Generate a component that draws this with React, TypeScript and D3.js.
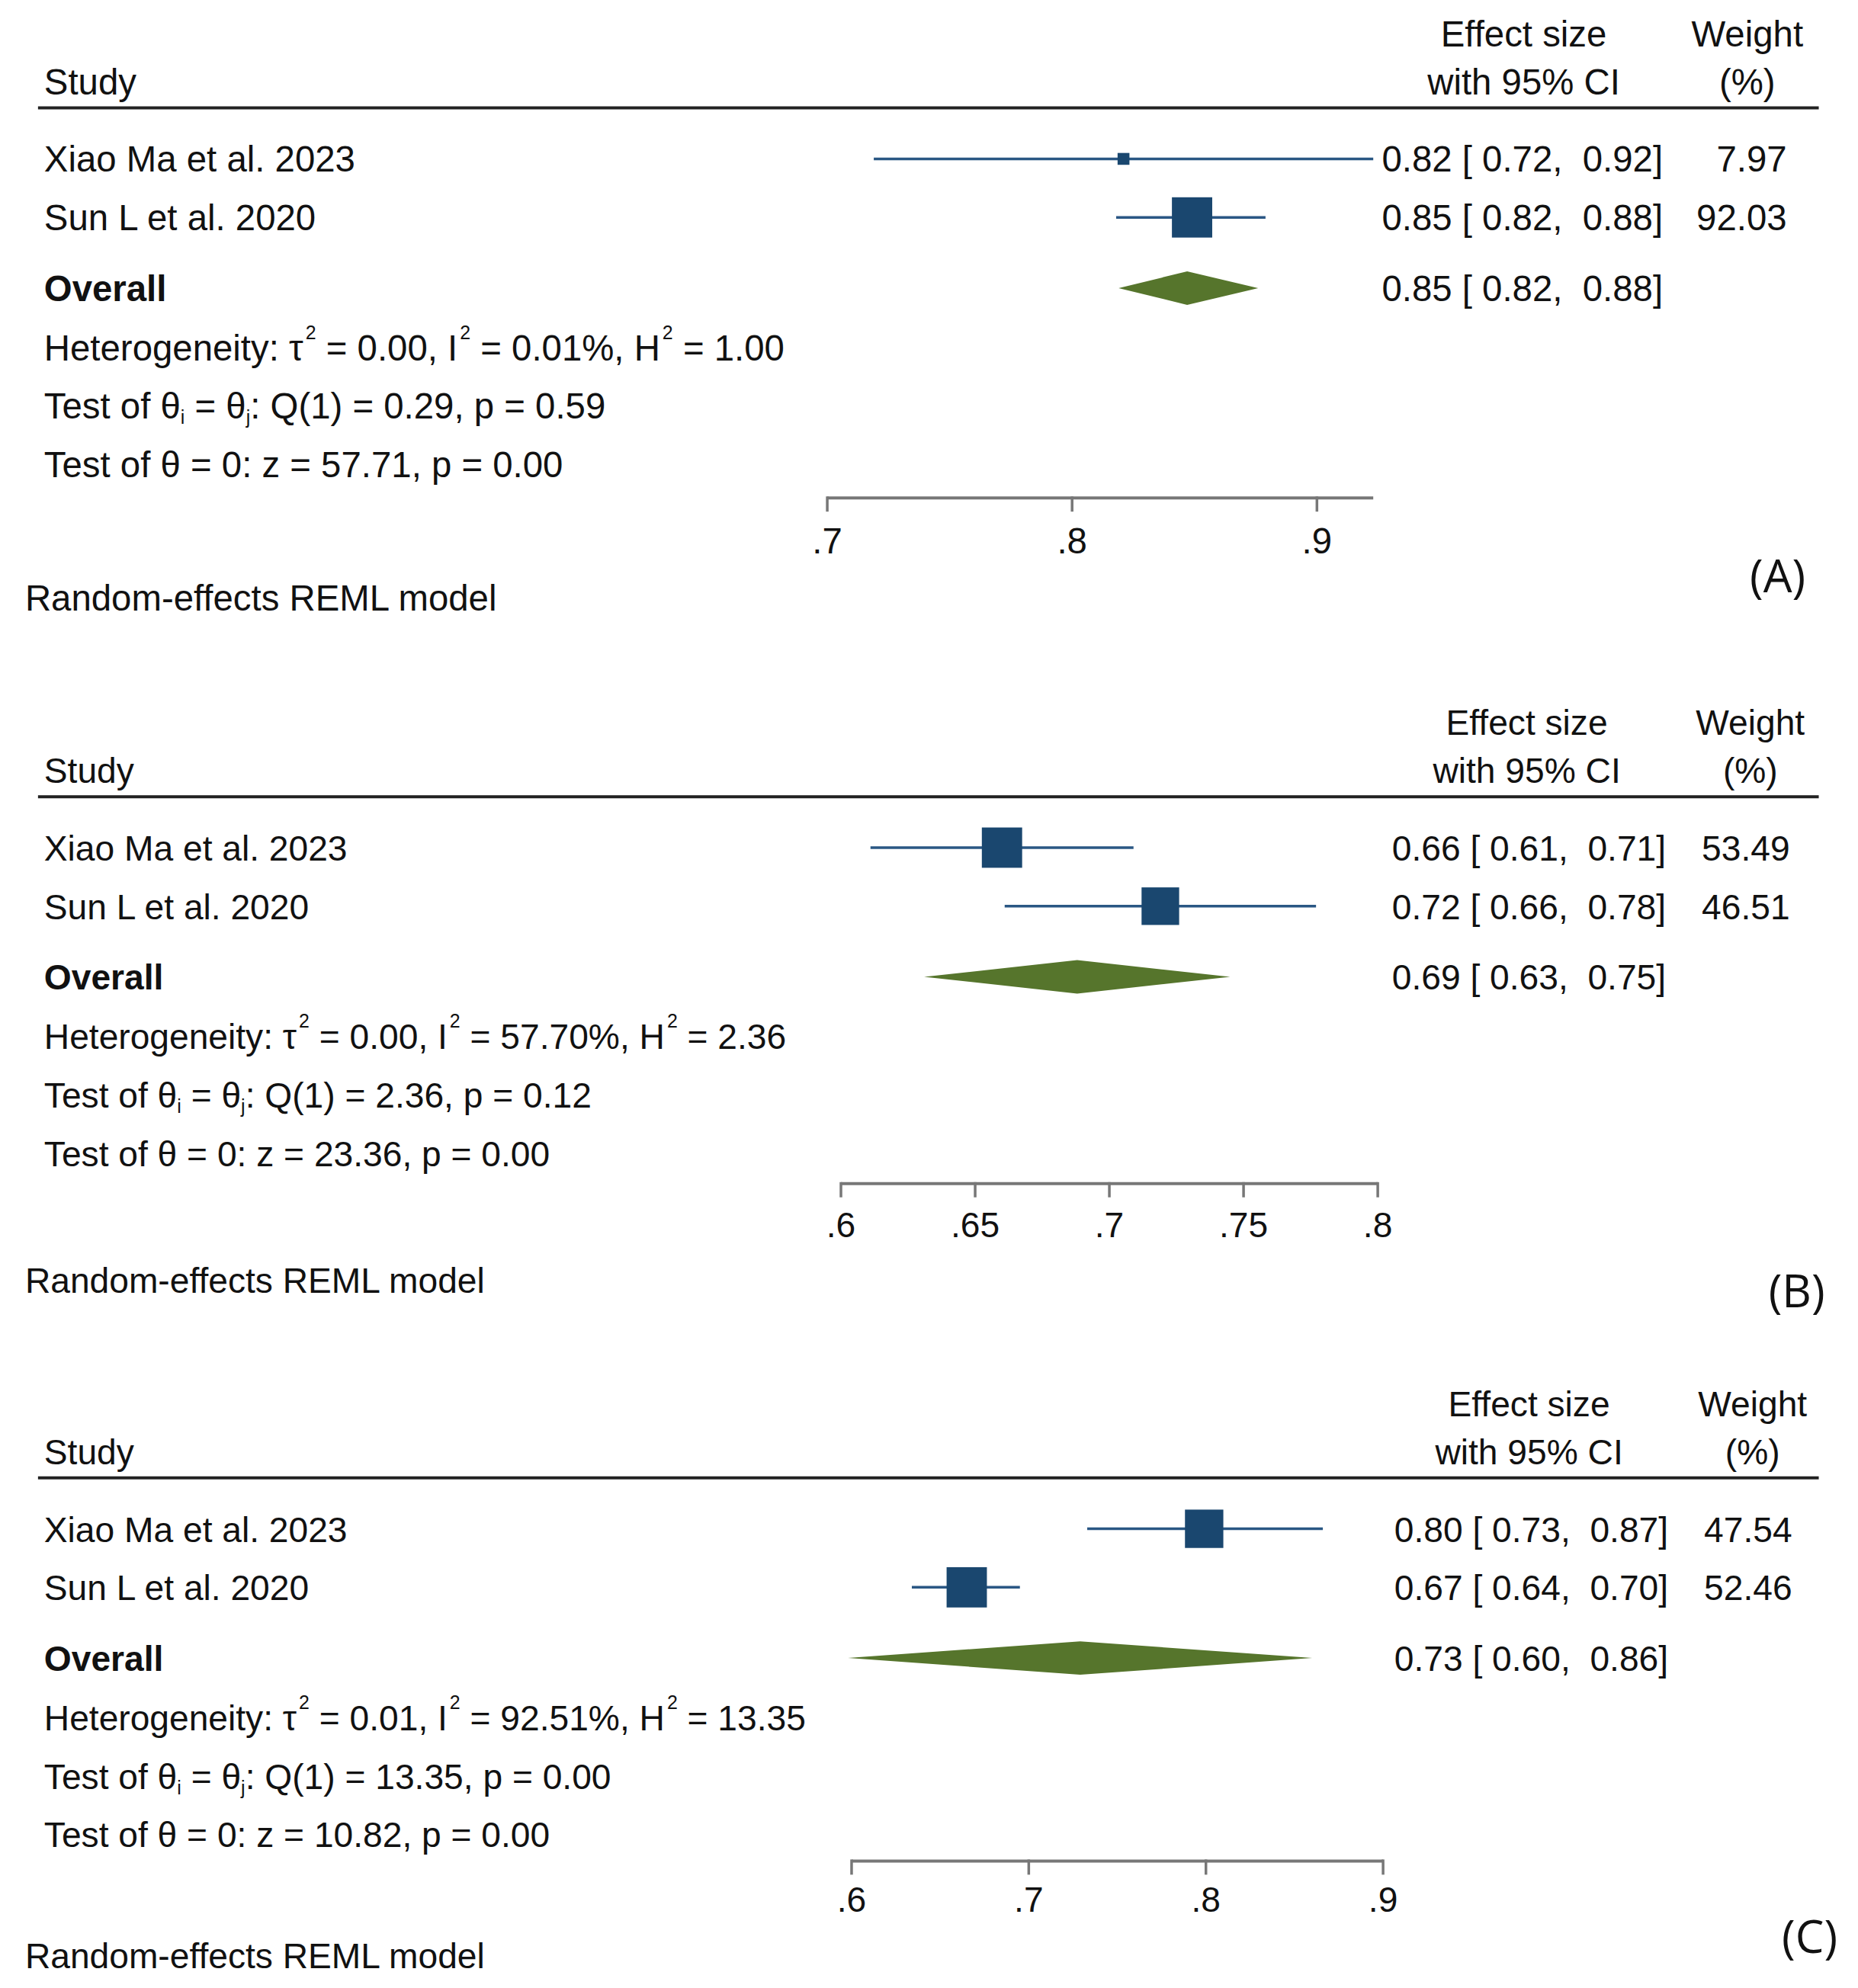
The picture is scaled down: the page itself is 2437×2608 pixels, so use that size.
import React from "react";
import * as d3 from "d3";

// ---------- DATA ----------
const studies = ["Xiao Ma et al. 2023", "Sun L et al. 2020"];
const panelIds = ["A", "B", "C"];

const estA = [0.821, 0.849];
const loA = [0.719, 0.818];
const hiA = [0.923, 0.879];
const weightA = [7.97, 92.03];
const esTextA = ["0.82 [ 0.72,  0.92]", "0.85 [ 0.82,  0.88]"];
const weightTextA = ["7.97", "92.03"];
const overallA = [0.847, 0.819, 0.876];
const overallTextA = "0.85 [ 0.82,  0.88]";
const ticksA = [0.7, 0.8, 0.9];
const tickLabelsA = [".7", ".8", ".9"];
const statsA = ["0.00", "0.01%", "1.00", "0.29", "0.59", "57.71", "0.00"];

const estB = [0.66, 0.719];
const loB = [0.611, 0.661];
const hiB = [0.709, 0.777];
const weightB = [53.49, 46.51];
const esTextB = ["0.66 [ 0.61,  0.71]", "0.72 [ 0.66,  0.78]"];
const weightTextB = ["53.49", "46.51"];
const overallB = [0.688, 0.631, 0.745];
const overallTextB = "0.69 [ 0.63,  0.75]";
const ticksB = [0.6, 0.65, 0.7, 0.75, 0.8];
const tickLabelsB = [".6", ".65", ".7", ".75", ".8"];
const statsB = ["0.00", "57.70%", "2.36", "2.36", "0.12", "23.36", "0.00"];

const estC = [0.799, 0.665];
const loC = [0.733, 0.634];
const hiC = [0.866, 0.695];
const weightC = [47.54, 52.46];
const esTextC = ["0.80 [ 0.73,  0.87]", "0.67 [ 0.64,  0.70]"];
const weightTextC = ["47.54", "52.46"];
const overallC = [0.729, 0.598, 0.86];
const overallTextC = "0.73 [ 0.60,  0.86]";
const ticksC = [0.6, 0.7, 0.8, 0.9];
const tickLabelsC = [".6", ".7", ".8", ".9"];
const statsC = ["0.01", "92.51%", "13.35", "13.35", "0.00", "10.82", "0.00"];

// ---------- LAYOUT ----------
const W = 2437;
const H = 2608;
const FONT = "'Liberation Sans', Arial, Helvetica, sans-serif";
const CAP = 17;
const NAVY = "#1a476f";
const LINE = "#2a5784";
const GREEN = "#56752c";
const GLOBAL_SCALE = 0.9973;

const panels = [
  {
    id: panelIds[0], est: estA, lo: loA, hi: hiA, w: weightA, es: esTextA, wt: weightTextA,
    ov: overallA, ovText: overallTextA, ticks: ticksA, tickLabels: tickLabelsA, stats: statsA,
    headY: 142, x0: 1088, x1: 1732, axisOff: 513, tickOff: 569, remlOff: 644, labOff: 616, labX: 2338, dx: 0, fs: 47.5,
  },
  {
    id: panelIds[1], est: estB, lo: loB, hi: hiB, w: weightB, es: esTextB, wt: weightTextB,
    ov: overallB, ovText: overallTextB, ticks: ticksB, tickLabels: tickLabelsB, stats: statsB,
    headY: 1048, x0: 1106, x1: 1812, axisOff: 509, tickOff: 562, remlOff: 636, labOff: 651, labX: 2363, dx: 4, fs: 46.3,
  },
  {
    id: panelIds[2], est: estC, lo: loC, hi: hiC, w: weightC, es: esTextC, wt: weightTextC,
    ov: overallC, ovText: overallTextC, ticks: ticksC, tickLabels: tickLabelsC, stats: statsC,
    headY: 1944, x0: 1120, x1: 1819, axisOff: 504, tickOff: 554, remlOff: 628, labOff: 604, labX: 2380, dx: 7, fs: 46.3,
  },
];

const ROW_OFF = [67, 144];
const OVERALL_OFF = 237;
const HET_OFF = 315;
const QI_OFF = 392;
const Z_OFF = 469;
const MAX_BOX = 53;

function Panel({ p }: { p: any }) {
  const x = d3.scaleLinear().domain([p.ticks[0], p.ticks[p.ticks.length - 1]]).range([p.x0, p.x1]);
  const maxW = d3.max(p.w as number[]) as number;
  const axisEnd = Math.max(p.ticks[p.ticks.length - 1], d3.max(p.hi as number[]) as number);
  const axisY = p.headY + p.axisOff;
  const esX = 2187 + p.dx;
  const wtX = 2350 + p.dx;
  const hdr1 = p.headY - 98;
  const hdr2 = p.headY - 35;
  const ovY = p.headY + OVERALL_OFF;
  const diamond = `M${x(p.ov[1])},${ovY} L${x(p.ov[0])},${ovY - 22} L${x(p.ov[2])},${ovY} L${x(p.ov[0])},${ovY + 22} Z`;
  const s = p.stats;
  const supDy = -28;
  const subDy = 7;
  const SFS = 25;
  return (
    <g fontFamily={FONT} fontSize={p.fs} fill="#111">
      <text x={2004 + p.dx} y={hdr1 + CAP} textAnchor="middle">Effect size</text>
      <text x={2004 + p.dx} y={hdr2 + CAP} textAnchor="middle">with 95% CI</text>
      <text x={2298 + p.dx} y={hdr1 + CAP} textAnchor="middle">Weight</text>
      <text x={2298 + p.dx} y={hdr2 + CAP} textAnchor="middle">(%)</text>
      <text x={58} y={hdr2 + CAP}>Study</text>
      <line x1={50} x2={2392} y1={p.headY} y2={p.headY} stroke="#222" strokeWidth={4} />

      {studies.map((name, i) => {
        const cy = p.headY + ROW_OFF[i];
        const side = MAX_BOX * Math.sqrt(p.w[i] / maxW);
        return (
          <g key={name}>
            <text x={58} y={cy + CAP}>{name}</text>
            <line x1={x(p.lo[i])} x2={x(p.hi[i])} y1={cy} y2={cy} stroke={LINE} strokeWidth={3.5} />
            <rect x={x(p.est[i]) - side / 2} y={cy - side / 2} width={side} height={side} fill={NAVY} />
            <text x={esX} y={cy + CAP} textAnchor="end" style={{ whiteSpace: "pre" }}>{p.es[i]}</text>
            <text x={wtX} y={cy + CAP} textAnchor="end">{p.wt[i]}</text>
          </g>
        );
      })}

      <text x={58} y={ovY + CAP} fontWeight="bold">Overall</text>
      <path d={diamond} fill={GREEN} />
      <text x={esX} y={ovY + CAP} textAnchor="end" style={{ whiteSpace: "pre" }}>{p.ovText}</text>

      <text x={58} y={p.headY + HET_OFF + CAP} style={{ whiteSpace: "pre" }}>
        {"Heterogeneity: τ"}
        <tspan dx={3} dy={supDy} fontSize={SFS}>2</tspan>
        <tspan dy={-supDy}>{` = ${s[0]}, I`}</tspan>
        <tspan dx={3} dy={supDy} fontSize={SFS}>2</tspan>
        <tspan dy={-supDy}>{` = ${s[1]}, H`}</tspan>
        <tspan dx={3} dy={supDy} fontSize={SFS}>2</tspan>
        <tspan dy={-supDy}>{` = ${s[2]}`}</tspan>
      </text>
      <text x={58} y={p.headY + QI_OFF + CAP} style={{ whiteSpace: "pre" }}>
        {"Test of θ"}
        <tspan dy={subDy} fontSize={SFS}>i</tspan>
        <tspan dy={-subDy}>{" = θ"}</tspan>
        <tspan dy={subDy} fontSize={SFS}>j</tspan>
        <tspan dy={-subDy}>{`: Q(1) = ${s[3]}, p = ${s[4]}`}</tspan>
      </text>
      <text x={58} y={p.headY + Z_OFF + CAP} style={{ whiteSpace: "pre" }}>
        {`Test of θ = 0: z = ${s[5]}, p = ${s[6]}`}
      </text>

      <line x1={x(p.ticks[0])} x2={x(axisEnd)} y1={axisY} y2={axisY} stroke="#777" strokeWidth={4} />
      {p.ticks.map((t: number, i: number) => (
        <g key={t}>
          <line x1={x(t)} x2={x(t)} y1={axisY - 2} y2={axisY + 18} stroke="#777" strokeWidth={3.5} />
          <text x={x(t)} y={p.headY + p.tickOff + CAP} textAnchor="middle">{p.tickLabels[i]}</text>
        </g>
      ))}

      <text x={33} y={p.headY + p.remlOff + CAP}>Random-effects REML model</text>
      <text x={p.labX} y={p.headY + p.labOff + 21} textAnchor="middle" fontFamily="'Open Sans', sans-serif" fontSize={60}>
        {`(${p.id})`}
      </text>
    </g>
  );
}

export default function App() {
  return (
    <svg
      width={W}
      height={H}
      viewBox={`0 0 ${W} ${H}`}
      style={{ position: "absolute", left: 0, top: 0, background: "#fff" }}
    >
      <rect x={0} y={0} width={W} height={H} fill="#fff" />
      <g transform={`scale(${GLOBAL_SCALE})`}>
        {panels.map((p) => (
          <Panel key={p.id} p={p} />
        ))}
      </g>
    </svg>
  );
}
